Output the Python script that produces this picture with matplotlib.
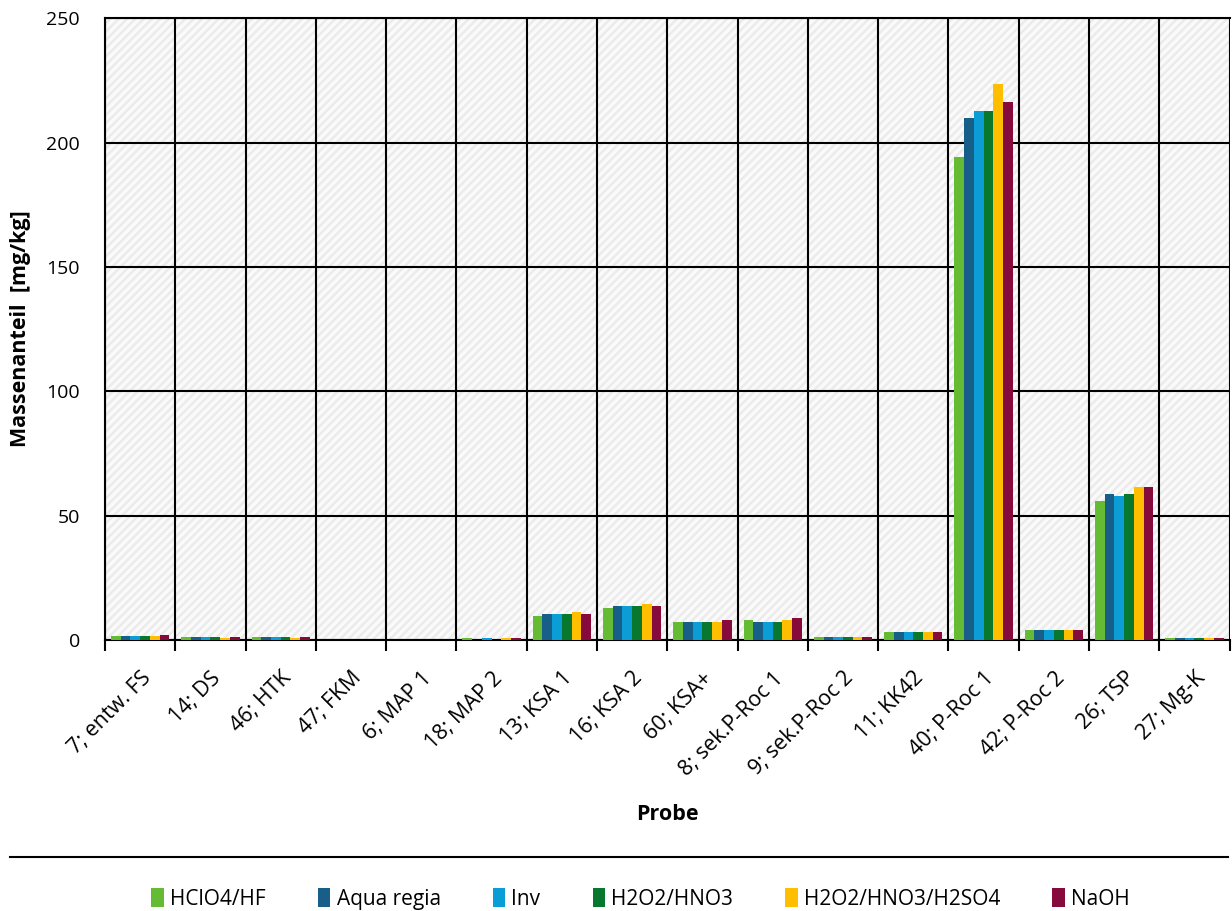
import numpy as np
import matplotlib
matplotlib.use('Agg')
import matplotlib.pyplot as plt
from matplotlib.patches import Rectangle
from matplotlib.lines import Line2D

proben = ['7; entw. FS', '14; DS', '46; HTK', '47; FKM', '6; MAP 1', '18; MAP 2',
          '13; KSA 1', '16; KSA 2', '60; KSA+', '8; sek.P-Roc 1', '9; sek.P-Roc 2',
          '11; KK42', '40; P-Roc 1', '42; P-Roc 2', '26; TSP', '27; Mg-K']

methoden = ['HClO4/HF', 'Aqua regia', 'Inv', 'H2O2/HNO3', 'H2O2/HNO3/H2SO4', 'NaOH']
farben = ['#66bb35', '#175e89', '#0a9dd6', '#07782d', '#ffbf00', '#870a3c']

hclo4_hf = [1.7, 1.0, 1.0, 0, 0, 0.8, 9.8, 12.9, 7.3, 8.1, 1.0, 3.3, 194.0, 4.2, 56.0, 0.9]
aqua_regia = [1.8, 1.0, 1.0, 0, 0, 0, 10.5, 13.7, 7.3, 7.3, 1.0, 3.3, 210.0, 4.2, 58.5, 0.9]
inv = [1.8, 1.0, 1.0, 0, 0, 0.8, 10.5, 13.7, 7.3, 7.3, 1.0, 3.3, 212.5, 4.2, 58.0, 0.9]
h2o2_hno3 = [1.8, 1.0, 1.0, 0, 0, 0, 10.5, 13.7, 7.3, 7.3, 1.0, 3.3, 212.5, 4.2, 58.5, 0.9]
h2o2_hno3_h2so4 = [1.7, 0.9, 0.9, 0, 0, 0.8, 11.3, 14.5, 7.3, 8.1, 1.0, 3.3, 223.5, 4.2, 61.5, 0.9]
naoh = [2.0, 1.0, 1.0, 0, 0, 0.8, 10.5, 13.7, 8.1, 8.9, 1.0, 3.3, 216.5, 4.2, 61.5, 0.9]

werte = [hclo4_hf, aqua_regia, inv, h2o2_hno3, h2o2_hno3_h2so4, naoh]

plt.rcParams['font.family'] = ['Open Sans', 'DejaVu Sans']
plt.rcParams['hatch.linewidth'] = 2.5

fig = plt.figure(figsize=(12.32, 9.11), dpi=100)
ax = fig.add_axes([0.0852, 0.2975, 0.9128, 0.6825])

# Hintergrund mit Schraffur
ax.add_patch(Rectangle((0, 0), 1, 1, transform=ax.transAxes, facecolor='#ebebeb',
                       edgecolor='#fafafa', hatch='////', linewidth=0, zorder=0))

x = np.arange(len(proben))
breite = 0.83 / len(methoden)
for i, (name, serie) in enumerate(zip(methoden, werte)):
    ax.bar(x - 0.415 + breite * (i + 0.5), serie, width=breite, color=farben[i],
           label=name, zorder=3)

ax.set_xlim(-0.5, len(proben) - 0.5)
ax.set_ylim(0, 250)
ax.set_yticks(np.arange(0, 251, 50))
ax.yaxis.grid(True, color='black', linewidth=1.5, zorder=1)
ax.set_axisbelow(True)

# Trennlinien zwischen den Proben
ax.set_xticks(np.arange(-0.5, len(proben), 1))
ax.set_xticklabels([])
ax.xaxis.grid(True, color='black', linewidth=1.5, zorder=1)
ax.set_xticks(x, minor=True)
ax.set_xticklabels(proben, minor=True, rotation=45, ha='right', rotation_mode='anchor')
ax.tick_params(axis='x', which='minor', length=0, labelsize=15.5, pad=20)
ax.tick_params(axis='x', which='major', length=8, width=1.5, color='black')
ax.tick_params(axis='y', length=0, labelsize=14, pad=18)

for s in ['top', 'left', 'bottom']:
    ax.spines[s].set_linewidth(1.5)
ax.spines['right'].set_visible(False)

ax.set_ylabel('Massenanteil  [mg/kg]', fontsize=15.5, fontweight='bold', labelpad=11)
ax.set_xlabel('Probe', fontsize=15.5, fontweight='bold', labelpad=17)

fig.add_artist(Line2D([0.008, 0.997], [0.0593, 0.0593], color='black', linewidth=1.5,
                      transform=fig.transFigure))

fig.legend(loc='center', bbox_to_anchor=(0.52, 0.013), ncol=6, frameon=False,
           fontsize=15, handlelength=0.6, handleheight=1.0, handletextpad=0.3,
           columnspacing=2.5)

fig.savefig('out.png', dpi=100)
